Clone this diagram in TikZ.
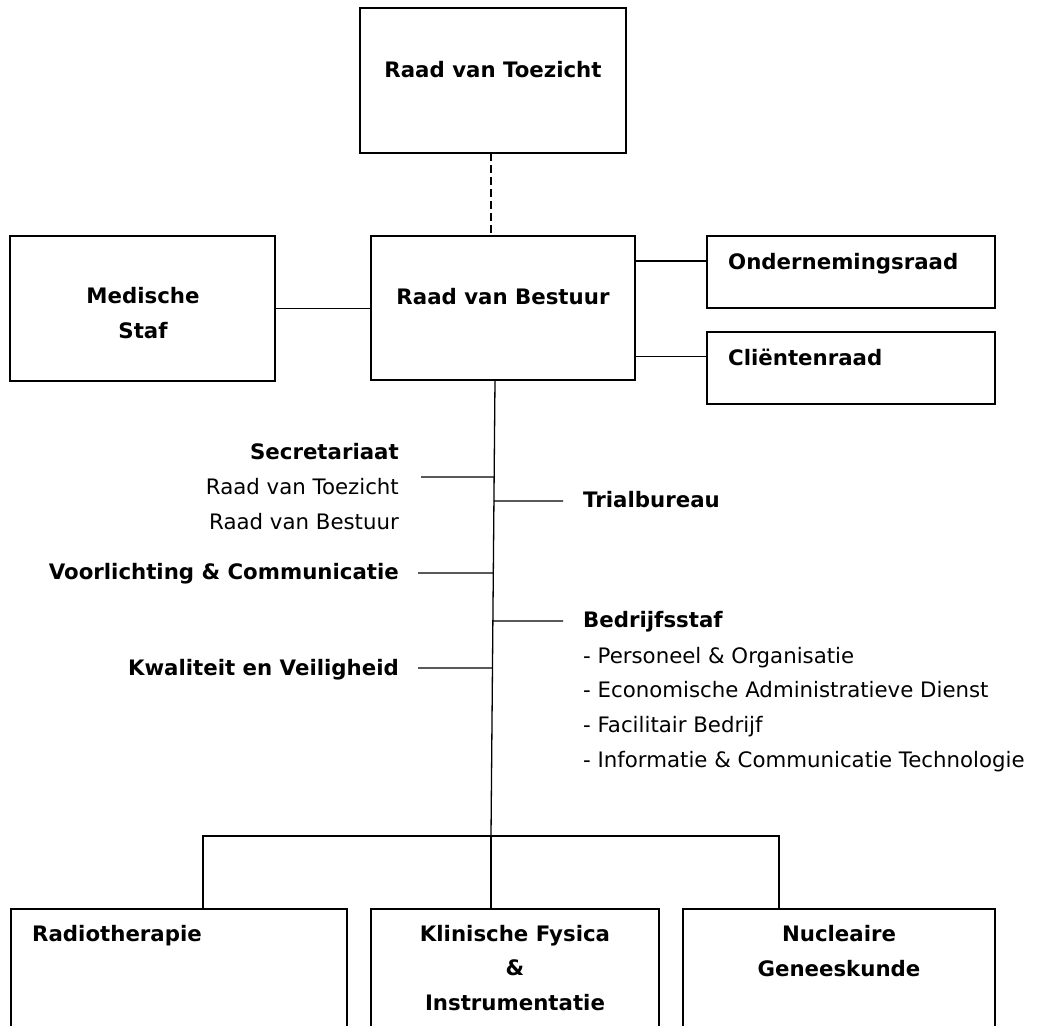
\documentclass[tikz,border=0pt]{standalone}
\usepackage{fontspec}
\setmainfont{DejaVu Sans}
\usetikzlibrary{calc}
\begin{document}
\begin{tikzpicture}[x=1pt,y=-1pt,
  box/.style={draw, line width=1.6pt, inner sep=0pt, outer sep=0pt, anchor=north west},
  conn/.style={line width=1.3pt},
  txt/.style={inner sep=0pt, font=\fontsize{21.3}{35}\selectfont},
  btxt/.style={inner sep=0pt, font=\fontsize{21.3}{35}\selectfont\bfseries},
]
\useasboundingbox (0,0) rectangle (1037,1026);

% boxes
\node[box, minimum width=266pt, minimum height=145pt] (rvt) at (360,8) {};
\node[box, minimum width=264pt, minimum height=144pt] (rvb) at (371,236) {};
\node[box, minimum width=265pt, minimum height=145pt] (ms) at (10,236) {};
\node[box, minimum width=288pt, minimum height=72pt] (odr) at (707,236) {};
\node[box, minimum width=288pt, minimum height=72pt] (clr) at (707,332) {};
\begin{scope}
\clip (0,0) rectangle (1037,1026);
\node[box, minimum width=336pt, minimum height=140pt] (rt) at (11,909) {};
\node[box, minimum width=288pt, minimum height=140pt] (kf) at (371,909) {};
\node[box, minimum width=312pt, minimum height=140pt] (ng) at (683,909) {};
\end{scope}

% box texts
\node[btxt, anchor=base] (trvt) at (493,77) {Raad van Toezicht};
\node[btxt, anchor=base] (trvb) at (503,304) {Raad van Bestuur};
\node[btxt, anchor=base] (tms1) at (143,303) {Medische};
\node[btxt, anchor=base] (tms2) at (143,338) {Staf};
\node[btxt, anchor=base west] (todr) at (728,269) {Ondernemingsraad};
\node[btxt, anchor=base west] (tclr) at (728,365) {Cliëntenraad};

% left column
\node[btxt, anchor=base east] (tsec) at (399,459) {Secretariaat};
\node[txt, anchor=base east] (tsec2) at (399,494) {Raad van Toezicht};
\node[txt, anchor=base east] (tsec3) at (399,529) {Raad van Bestuur};
\node[btxt, anchor=base east] (tvc) at (399,579) {Voorlichting \& Communicatie};
\node[btxt, anchor=base east] (tkv) at (399,675) {Kwaliteit en Veiligheid};

% right column
\node[btxt, anchor=base west] (ttb) at (583,507) {Trialbureau};
\node[btxt, anchor=base west] (tbs) at (583,627) {Bedrijfsstaf};
\node[txt, anchor=base west] (tbs1) at (583,663) {- Personeel \& Organisatie};
\node[txt, anchor=base west] (tbs2) at (583,697) {- Economische Administratieve Dienst};
\node[txt, anchor=base west] (tbs3) at (583,732) {- Facilitair Bedrijf};
\node[txt, anchor=base west] (tbs4) at (583,767) {- Informatie \& Communicatie Technologie};

% bottom texts
\node[btxt, anchor=base west] (trt) at (32,941) {Radiotherapie};
\node[btxt, anchor=base] (tkf1) at (515,941) {Klinische Fysica};
\node[btxt, anchor=base] (tkf2) at (515,975) {\&};
\node[btxt, anchor=base] (tkf3) at (515,1010) {Instrumentatie};
\node[btxt, anchor=base] (tng1) at (839,941) {Nucleaire};
\node[btxt, anchor=base] (tng2) at (839,976) {Geneeskunde};

% coordinates
\coordinate (dx) at (491,0);
\coordinate (yo) at (0,261);
\coordinate (yc) at (0,356.5);
\coordinate (tt) at ([xshift=-8pt]rvb.south);
\coordinate (tb) at (491,836);
\coordinate (b1) at (203,836);
\coordinate (b3) at (779,836);
\coordinate (lsec) at (421,477);
\coordinate (lvc) at (418,573);
\coordinate (lkv) at (418,668);
\coordinate (rtb) at (563,501);
\coordinate (rbs) at (563,621);

% connectors
\draw[conn, dash pattern=on 8pt off 4pt] (rvt.south -| dx) -- (rvb.north -| dx);
\draw[conn] (ms.east) -- (ms.east -| rvb.west);
\draw[conn] (rvb.east |- yo) -- (odr.west |- yo);
\draw[conn] (rvb.east |- yc) -- (clr.west |- yc);
\draw[conn] (tt) -- (tb);
\draw[conn] (lsec) -- ($(tt)!0.2127!(tb)$);
\draw[conn] (lvc) -- ($(tt)!0.4232!(tb)$);
\draw[conn] (lkv) -- ($(tt)!0.6316!(tb)$);
\draw[conn] ($(tt)!0.2654!(tb)$) -- (rtb);
\draw[conn] ($(tt)!0.5285!(tb)$) -- (rbs);
\draw[conn] (rt.north -| b1) -- (b1) -- (b3) -- (ng.north -| b3);
\draw[conn] (tb) -- (kf.north -| tb);
\end{tikzpicture}
\end{document}
